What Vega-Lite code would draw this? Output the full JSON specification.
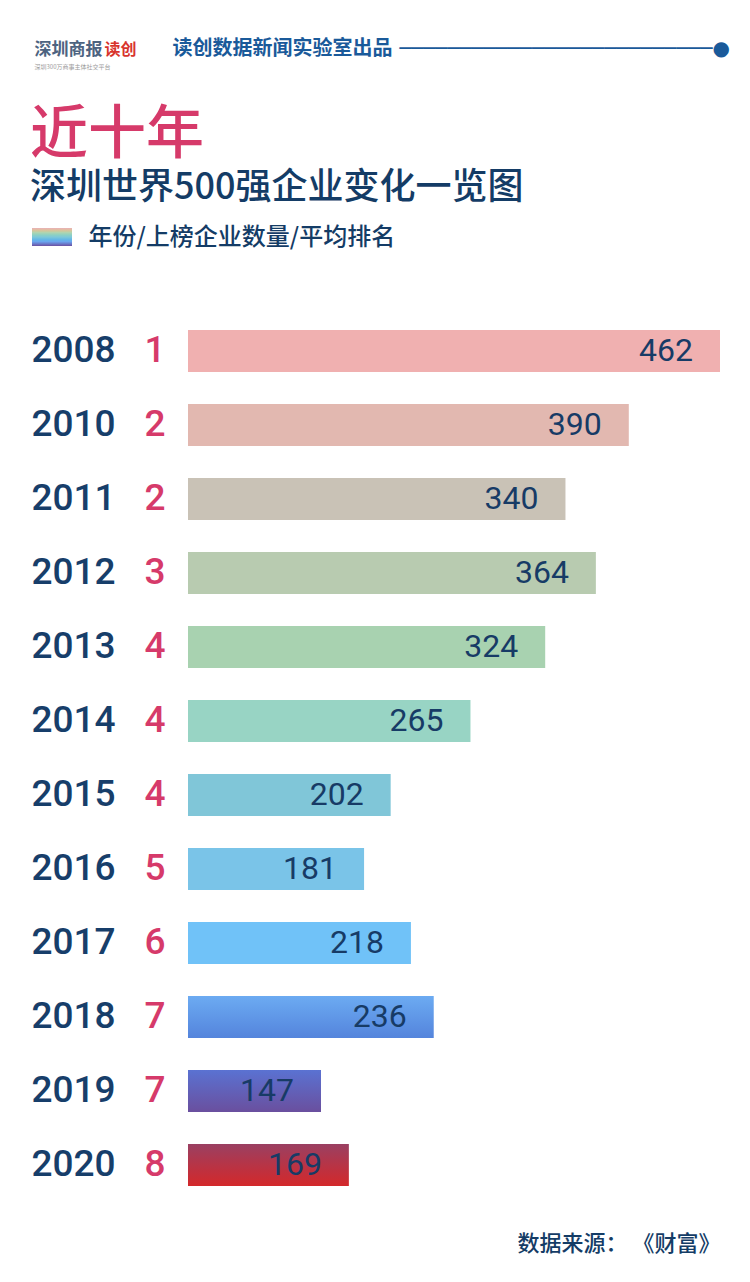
{
  "$schema": "https://vega.github.io/schema/vega-lite/v6.json",
  "width": 532,
  "height": 888,
  "autosize": {"type": "none"},
  "padding": {"left": 188, "top": 314, "right": 30, "bottom": 80},
  "background": "#ffffff",
  "config": {"view": {"stroke": null}},
  "title": {
    "text": "近十年",
    "subtitle": "深圳世界500强企业变化一览图",
    "anchor": "start",
    "frame": "group",
    "dx": -158,
    "dy": 180,
    "offset": 12,
    "font": "Noto Sans CJK SC",
    "fontSize": 58,
    "fontWeight": 500,
    "color": "#d63a6a",
    "subtitleFont": "Noto Sans CJK SC",
    "subtitleFontSize": 36,
    "subtitleFontWeight": 500,
    "subtitleColor": "#143c66",
    "subtitlePadding": 6
  },
  "data": {
    "values": [
      {"year": "2008", "companies": 1, "avgRank": 462},
      {"year": "2010", "companies": 2, "avgRank": 390},
      {"year": "2011", "companies": 2, "avgRank": 340},
      {"year": "2012", "companies": 3, "avgRank": 364},
      {"year": "2013", "companies": 4, "avgRank": 324},
      {"year": "2014", "companies": 4, "avgRank": 265},
      {"year": "2015", "companies": 4, "avgRank": 202},
      {"year": "2016", "companies": 5, "avgRank": 181},
      {"year": "2017", "companies": 6, "avgRank": 218},
      {"year": "2018", "companies": 7, "avgRank": 236},
      {"year": "2019", "companies": 7, "avgRank": 147},
      {"year": "2020", "companies": 8, "avgRank": 169}
    ]
  },
  "resolve": {"axis": {"y": "independent", "x": "independent"}},
  "layer": [
    {
      "mark": {"type": "bar"},
      "encoding": {
        "y": {
          "field": "year",
          "type": "nominal",
          "sort": null,
          "scale": {"paddingInner": 0.43, "paddingOuter": 0.215},
          "axis": {
            "orient": "left",
            "title": "读创数据新闻实验室出品 ──────────────────────────●",
            "titleAngle": 0,
            "titleX": -16,
            "titleY": -266,
            "titleAlign": "left",
            "titleBaseline": "middle",
            "titleFont": "DejaVu Sans, Noto Sans CJK SC",
            "titleFontSize": 20,
            "titleFontWeight": "bold",
            "titleColor": "#1a5a9a",
            "ticks": false,
            "tickSize": 0,
            "domain": false,
            "grid": false,
            "labelAlign": "left",
            "labelBaseline": "middle",
            "labelPadding": 157,
            "labelFont": "Roboto",
            "labelFontWeight": 500,
            "labelFontSize": 37,
            "labelColor": "#173e6a"
          }
        },
        "x": {
          "field": "avgRank",
          "type": "quantitative",
          "scale": {"domain": [42, 462], "zero": false, "nice": false, "clamp": true},
          "axis": {
            "orient": "bottom",
            "labels": false,
            "ticks": false,
            "domain": false,
            "grid": false,
            "title": "数据来源：  《财富》",
            "titleAnchor": "end",
            "titleFont": "Noto Sans CJK SC",
            "titleFontSize": 22,
            "titleFontWeight": 500,
            "titleColor": "#143c66",
            "titlePadding": 31
          }
        },
        "color": {
          "field": "year",
          "type": "nominal",
          "sort": null,
          "legend": null,
          "scale": {
            "domain": ["2008", "2010", "2011", "2012", "2013", "2014", "2015", "2016", "2017", "2018", "2019", "2020"],
            "range": ["#f0b0b0", "#e2b8b0", "#c9c2b6", "#b8cbb0", "#a8d2b0", "#98d4c4", "#80c6d8", "#7ac4e8", "#70c2f8", "#6098e8", "#6060b8", "#b83848"]
          },
          "condition": [
            {"test": "datum.year === '2018'", "value": {"gradient": "linear", "x1": 0, "y1": 0, "x2": 0, "y2": 1, "stops": [{"offset": 0, "color": "#6cabf2"}, {"offset": 1, "color": "#5484dc"}]}},
            {"test": "datum.year === '2019'", "value": {"gradient": "linear", "x1": 0, "y1": 0, "x2": 0, "y2": 1, "stops": [{"offset": 0, "color": "#5a72d2"}, {"offset": 1, "color": "#6a4f9e"}]}},
            {"test": "datum.year === '2020'", "value": {"gradient": "linear", "x1": 0, "y1": 0, "x2": 0, "y2": 1, "stops": [{"offset": 0, "color": "#9a4062"}, {"offset": 1, "color": "#d4282a"}]}}
          ]
        }
      }
    },
    {
      "mark": {"type": "square", "opacity": 0},
      "encoding": {
        "y": {
          "field": "year",
          "type": "nominal",
          "sort": null,
          "axis": {
            "orient": "left",
            "labels": false,
            "ticks": false,
            "domain": false,
            "grid": false,
            "title": "深圳商报",
            "titleAngle": 0,
            "titleX": -154,
            "titleY": -265,
            "titleAlign": "left",
            "titleBaseline": "middle",
            "titleFont": "Noto Sans CJK SC",
            "titleFontSize": 17,
            "titleFontWeight": "bold",
            "titleColor": "#4d6380"
          }
        },
        "fill": {
          "datum": 1,
          "type": "quantitative",
          "scale": {"domain": [0, 1], "range": ["#6a50a0", "#6aa6ee", "#80c8d8", "#b2d4b0", "#e8b2b8"]},
          "legend": {
            "orient": "none",
            "legendX": -156,
            "legendY": -86,
            "padding": 0,
            "direction": "vertical",
            "gradientLength": 18,
            "gradientThickness": 40,
            "gradientStrokeWidth": 0,
            "gradientOpacity": 1,
            "labelExpr": "''",
            "labelOffset": 0,
            "labelFontSize": 1,
            "title": null
          }
        }
      }
    },
    {
      "mark": {"type": "text", "align": "center", "baseline": "middle", "dx": -33, "font": "Roboto", "fontWeight": 500, "fontSize": 37, "color": "#d63a6a"},
      "encoding": {
        "y": {
          "field": "year",
          "type": "nominal",
          "sort": null,
          "axis": {
            "orient": "left",
            "labels": false,
            "ticks": false,
            "domain": false,
            "grid": false,
            "title": "读创",
            "titleAngle": 0,
            "titleX": -84,
            "titleY": -265,
            "titleAlign": "left",
            "titleBaseline": "middle",
            "titleFont": "Noto Sans CJK SC",
            "titleFontSize": 16,
            "titleFontWeight": "bold",
            "titleColor": "#d8342c"
          }
        },
        "x": {
          "datum": 42,
          "type": "quantitative",
          "axis": {
            "orient": "top",
            "labels": false,
            "ticks": false,
            "domain": false,
            "grid": false,
            "title": "年份/上榜企业数量/平均排名",
            "titleAngle": 0,
            "titleX": -100,
            "titleY": -77,
            "titleAlign": "left",
            "titleBaseline": "middle",
            "titleFont": "Noto Sans CJK SC",
            "titleFontSize": 24,
            "titleFontWeight": 500,
            "titleColor": "#143c66"
          }
        },
        "text": {"field": "companies", "type": "quantitative"}
      }
    },
    {
      "mark": {"type": "text", "align": "right", "baseline": "middle", "dx": -27, "font": "Roboto", "fontSize": 32, "color": "#173b66"},
      "encoding": {
        "y": {
          "field": "year",
          "type": "nominal",
          "sort": null,
          "axis": {
            "orient": "left",
            "labels": false,
            "ticks": false,
            "domain": false,
            "grid": false,
            "title": "深圳300万商事主体社交平台",
            "titleAngle": 0,
            "titleX": -154,
            "titleY": -248,
            "titleAlign": "left",
            "titleBaseline": "middle",
            "titleFont": "Noto Sans CJK SC",
            "titleFontSize": 6,
            "titleFontWeight": "normal",
            "titleColor": "#9a9a9a"
          }
        },
        "x": {"field": "avgRank", "type": "quantitative", "axis": null},
        "text": {"field": "avgRank", "type": "quantitative"}
      }
    }
  ]
}
